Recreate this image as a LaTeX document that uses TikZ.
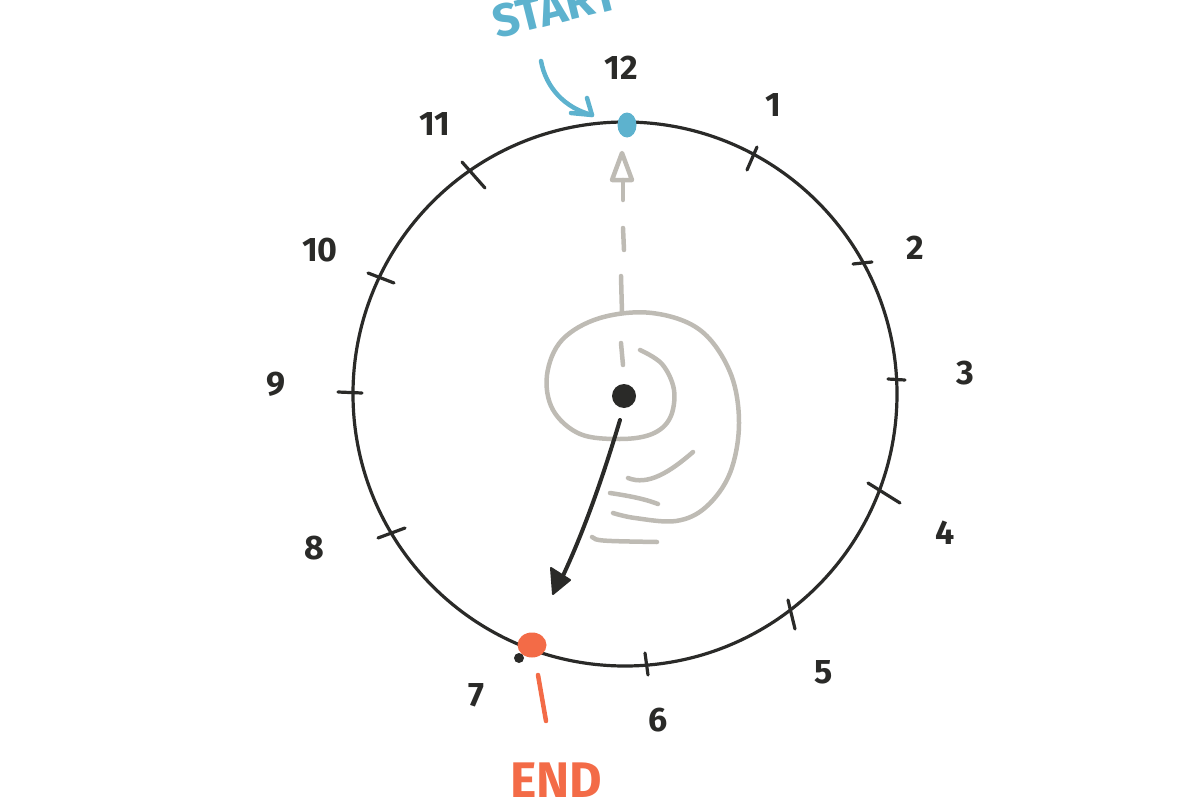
\documentclass[tikz,border=0pt]{standalone}
\usepackage{fontspec}
\setmainfont{Fira Sans}
\usetikzlibrary{shapes.geometric}
\definecolor{ink}{HTML}{2A2A28}
\definecolor{skyb}{HTML}{5DB2CE}
\definecolor{redo}{HTML}{F36B47}
\definecolor{greyl}{HTML}{BEBBB4}
\begin{document}
\begin{tikzpicture}[x=1pt,y=-1pt,
  line cap=round, line join=round,
  num/.style={text=ink, font=\fontsize{34}{36}\selectfont\bfseries, inner sep=0pt},
  tick/.style={draw=ink, line width=3.2pt},
  rim/.style={draw=ink, line width=3.2pt},
  ghost/.style={draw=greyl, line width=4.5pt},
  handline/.style={draw=ink, line width=4pt}]
\useasboundingbox (0,0) rectangle (1200,800);
% clock face
\node[circle, rim, minimum size=544pt, inner sep=0pt] (face) at (625,394) {};
% ticks
\draw[tick] (757,147) -- (747,170);
\draw[tick] (853,264) -- (872,262);
\draw[tick] (888,379) -- (905,380);
\draw[tick] (868,483) -- (900,503);
\draw[tick] (788,600) -- (795,629);
\draw[tick] (645,653) -- (648,675);
\draw[tick] (378,538) -- (405,528);
\draw[tick] (338,392) -- (362,393);
\draw[tick] (368,273) -- (394,283);
\draw[tick] (462,162) -- (485,188);
% numbers
\node[num] (n12) at (621,68) {12};
\node[num] (n1) at (773,105) {1};
\node[num] (n2) at (915,248) {2};
\node[num] (n3) at (965,373) {3};
\node[num] (n4) at (945,533) {4};
\node[num] (n5) at (824,672) {5};
\node[num] (n6) at (658,720) {6};
\node[num] (n7) at (476,695) {7};
\node[num] (n8) at (314,548) {8};
\node[num] (n9) at (276,384) {9};
\node[num] (n10) at (320,250) {10};
\node[num] (n11) at (435,124) {11};
% grey spiral
\draw[ghost] plot[smooth, tension=0.6] coordinates {(640,350) (662,364) (674,390) (670,418) (652,434) (620,439) (580,434) (553,410) (547,375) (562,340) (600,318) (652,313) (700,330) (730,372) (739,423) (730,473) (706,507) (676,521) (635,518) (613,513)};
\draw[ghost] (621,343) -- (623,365);
\draw[ghost] (693,452) .. controls (670,472) and (648,486) .. (628,478);
\draw[ghost] (610,493) .. controls (630,496) and (645,499) .. (658,504);
\draw[ghost] (592,537) .. controls (596,541) and (600,541) .. (657,542);
% grey dashed arrow to 12
\coordinate (gtip) at (622,153);
\draw[ghost] (621,276) -- (622,313);
\draw[ghost] (623,228) -- (624,250);
\draw[ghost] (623,180) -- (623,200);
\draw[ghost] (gtip) -- (612,180) -- (632,180) -- cycle;
% center and hand
\node[circle, fill=ink, minimum size=24pt, inner sep=0pt] (ctr) at (624,396) {};
\coordinate (htip) at (553,594);
\draw[handline] (620,420) .. controls (605,470) and (585,530) .. (560,582);
\fill[ink, draw=ink, line width=2pt] (htip) -- (551,568) -- (570,580) -- cycle;
% start marker
\node[ellipse, fill=skyb, minimum width=19pt, minimum height=25pt, inner sep=0pt] (sdot) at (627,125) {};
\node[text=skyb, font=\fontsize{46}{48}\selectfont\bfseries, rotate=14, inner sep=0pt] (start) at (555,8) {START};
\coordinate (sarr) at (592,115);
\draw[skyb, line width=4.5pt] (541,61) .. controls (546,88) and (565,108) .. (sarr);
\draw[skyb, line width=4.5pt] (587,98) -- (sarr) -- (571,113);
% end marker
\node[circle, fill=ink, minimum size=10pt, inner sep=0pt] (bdot) at (519,658) {};
\node[ellipse, fill=redo, minimum width=29pt, minimum height=25pt, inner sep=0pt] (edot) at (532,645) {};
\node[text=redo, font=\fontsize{50}{52}\selectfont\bfseries, anchor=north, inner sep=0pt] (endt) at (556,763) {END};
\draw[redo, line width=4.5pt] (538,675) -- (546,721);
\end{tikzpicture}
\end{document}
